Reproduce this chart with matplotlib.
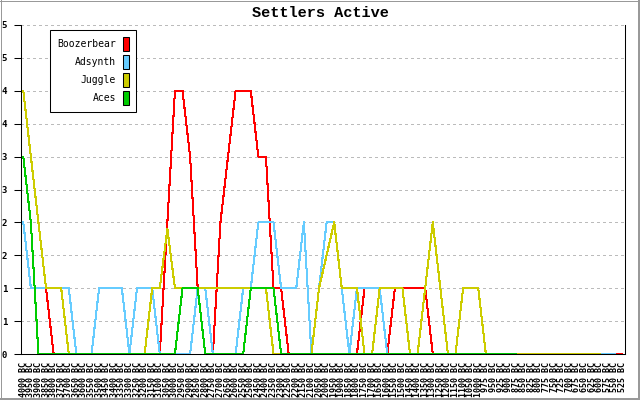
import numpy as np
import matplotlib.pyplot as plt
from matplotlib.patches import Patch
from matplotlib.lines import Line2D
from matplotlib.transforms import IdentityTransform

plt.rcParams['lines.scale_dashes'] = False

# Dados
years = ['4000 BC', '3950 BC', '3900 BC', '3850 BC', '3800 BC', '3750 BC', '3700 BC', '3650 BC',
         '3600 BC', '3550 BC', '3500 BC', '3450 BC', '3400 BC', '3350 BC', '3300 BC', '3250 BC',
         '3200 BC', '3150 BC', '3100 BC', '3050 BC', '3000 BC', '2950 BC', '2900 BC', '2850 BC',
         '2800 BC', '2750 BC', '2700 BC', '2650 BC', '2600 BC', '2550 BC', '2500 BC', '2450 BC',
         '2400 BC', '2350 BC', '2300 BC', '2250 BC', '2200 BC', '2150 BC', '2100 BC', '2050 BC',
         '2000 BC', '1950 BC', '1900 BC', '1850 BC', '1800 BC', '1750 BC', '1700 BC', '1650 BC',
         '1600 BC', '1550 BC', '1500 BC', '1450 BC', '1400 BC', '1350 BC', '1300 BC', '1250 BC',
         '1200 BC', '1150 BC', '1100 BC', '1050 BC', '1000 BC', '975 BC', '950 BC', '925 BC',
         '900 BC', '875 BC', '850 BC', '825 BC', '800 BC', '775 BC', '750 BC', '725 BC',
         '700 BC', '675 BC', '650 BC', '625 BC', '600 BC', '575 BC', '550 BC', '525 BC']

boozerbear = [2, 1, 1, 1, 0, 0, 0, 0, 0, 0,
              0, 0, 0, 0, 0, 0, 0, 0, 0, 2,
              4, 4, 3, 1, 0, 0, 2, 3, 4, 4,
              4, 3, 3, 1, 1, 0, 0, 0, 0, 0,
              0, 0, 0, 0, 0, 1, 1, 1, 0, 1,
              1, 1, 1, 1, 0, 0, 0, 0, 0, 0,
              0, 0, 0, 0, 0, 0, 0, 0, 0, 0,
              0, 0, 0, 0, 0, 0, 0, 0, 0, 0]

adsynth = [2, 1, 1, 1, 1, 1, 1, 0, 0, 0,
           1, 1, 1, 1, 0, 1, 1, 1, 0, 0,
           0, 0, 0, 1, 1, 0, 0, 0, 0, 1,
           1, 2, 2, 2, 1, 1, 1, 2, 0, 1,
           2, 2, 1, 0, 1, 1, 1, 1, 0, 0,
           0, 0, 0, 0, 0, 0, 0, 0, 0, 0,
           0, 0, 0, 0, 0, 0, 0, 0, 0, 0,
           0, 0, 0, 0, 0, 0, 0, 0, 0]

juggle = [4, 3, 2, 1, 1, 1, 0, 0, 0, 0,
          0, 0, 0, 0, 0, 0, 0, 1, 1, 1.9,
          1, 1, 1, 1, 1, 1, 1, 1, 1, 1,
          1, 1, 1, 0, 0, 0, 0, 0, 0, 1,
          1.5, 2, 1, 1, 1, 0, 0, 1, 1, 1,
          1, 0, 0, 1, 2, 1, 0, 0, 1, 1,
          1, 0, 0, 0, 0, 0, 0, 0, 0, 0,
          0, 0, 0, 0, 0, 0, 0]

aces = [3, 2, 0, 0, 0, 0, 0, 0, 0, 0,
        0, 0, 0, 0, 0, 0, 0, 0, 0, 0,
        0, 1, 1, 1, 0, 0, 0, 0, 0, 0,
        1, 1, 1, 1, 0, 0, 0, 0, 0, 0,
        0, 0, 0, 0, 0, 0, 0, 0, 0, 0,
        0, 0, 0, 0, 0, 0, 0, 0, 0, 0,
        0, 0, 0, 0, 0, 0]

ytick_labels = ['0', '1', '1', '2', '2', '3', '3', '4', '4', '5', '5']

series = [('Boozerbear', boozerbear, '#ff0000'),
          ('Adsynth', adsynth, '#66ccff'),
          ('Juggle', juggle, '#cccc00'),
          ('Aces', aces, '#00cc00')]

fig = plt.figure(figsize=(6.4, 4), dpi=100)
ax = fig.add_axes([21/640, 46/400, 604/640, 329/400])

# linhas de grade tracejadas
yticks = np.arange(0, 5.01, 0.5)
for y in yticks[1:]:
    ax.axhline(y, color='#bbbbbb', lw=0.75, dashes=(1.5, 2.2), zorder=0, antialiased=False)

for nome, vals, cor in series:
    ax.plot(range(len(vals)), vals, color=cor, lw=0.75, antialiased=False)

ax.set_xlim(-0.3, 79.35)
ax.set_ylim(0, 5)
ax.set_yticks(yticks)
ax.set_yticklabels(ytick_labels, fontfamily='DejaVu Sans Mono', fontweight='bold', fontsize=6.5)
ax.tick_params(axis='y', length=5, width=0.75, direction='out', pad=5)
ax.set_xticks(range(len(years)))
ax.set_xticklabels(years, rotation=90, fontfamily='DejaVu Sans Mono', fontweight='bold', fontsize=6)
ax.tick_params(axis='x', length=0, pad=6)
ax.spines['top'].set_visible(False)
for s in ['left', 'bottom', 'right']:
    ax.spines[s].set_linewidth(0.75)

# legenda com caixas coloridas a direita
handles = [Patch(facecolor=cor, edgecolor='black', lw=0.75) for nome, vals, cor in series]
leg = ax.legend(handles, [s[0] for s in series], loc='upper left',
                bbox_to_anchor=(50/640, 1 - 30/400), bbox_transform=fig.transFigure,
                markerfirst=False, handlelength=0.65, handleheight=1.84, handletextpad=0.7,
                labelspacing=0.4, borderpad=0.75, borderaxespad=0, fancybox=False,
                framealpha=1, edgecolor='black',
                prop={'family': 'DejaVu Sans Mono', 'size': 7})
leg.get_frame().set_linewidth(0.75)

fig.text(0.5, 1 - 13/400, 'Settlers Active', ha='center', va='center',
         fontfamily='Liberation Mono', fontweight='bold', fontsize=11)

# moldura cinza
borda = '#999999'
fig.add_artist(Line2D([0.5, 0.5], [0, 400], transform=IdentityTransform(), color=borda, lw=0.72))
fig.add_artist(Line2D([0, 640], [399.5, 399.5], transform=IdentityTransform(), color=borda, lw=0.72))
fig.add_artist(Line2D([639, 639], [0, 400], transform=IdentityTransform(), color=borda, lw=1.44))
fig.add_artist(Line2D([0, 640], [1, 1], transform=IdentityTransform(), color=borda, lw=1.44))

fig.savefig('out.png', dpi=100)
